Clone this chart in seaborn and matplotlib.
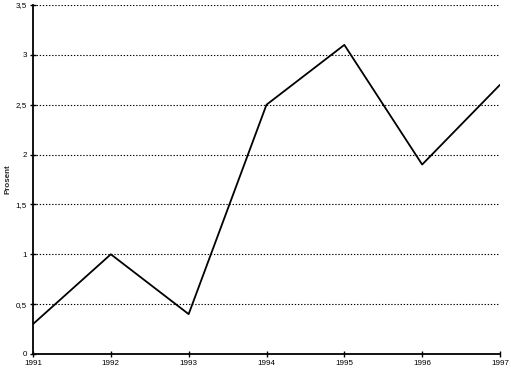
import matplotlib
matplotlib.use("Agg")
import matplotlib.pyplot as plt
import seaborn as sns
import pandas as pd

years = [1991, 1992, 1993, 1994, 1995, 1996, 1997]
values = [0.3, 1.0, 0.4, 2.5, 3.1, 1.9, 2.7]
yticks = [0, 0.5, 1, 1.5, 2, 2.5, 3, 3.5]
ytick_labels = ["0", "0,5", "1", "1,5", "2", "2,5", "3", "3,5"]
ylabel = "Prosent"

sns.set_style("white")
plt.rcParams['font.family'] = ['Liberation Sans', 'DejaVu Sans']

df = pd.DataFrame({"year": years, "value": values})

fig = plt.figure(figsize=(5.11, 3.72), dpi=100)
ax = fig.add_axes([33/511, 1 - 354/372, (500 - 33)/511, (354 - 5)/372])

for y in yticks[1:]:
    ax.axhline(y, color="black", linestyle=(0, (1.2, 1.6)), linewidth=0.8, zorder=1)

sns.lineplot(data=df, x="year", y="value", ax=ax, color="black", linewidth=1.3, zorder=3)

ax.set_xlim(1991, 1997)
ax.set_ylim(0, 3.5)
ax.set_xticks(years)
ax.set_xticklabels([str(y) for y in years], fontsize=5.8)
ax.set_yticks(yticks)
ax.set_yticklabels(ytick_labels, fontsize=5.8)
ax.set_xlabel("")
ax.set_ylabel(ylabel, fontsize=5.8, fontweight="bold", labelpad=3)

for s in ["top", "right"]:
    ax.spines[s].set_visible(False)
for s in ["left", "bottom"]:
    ax.spines[s].set_color("black")
    ax.spines[s].set_linewidth(1.3)

ax.tick_params(axis="both", which="major", bottom=True, left=True, direction="inout",
               length=5, width=1, color="black", pad=2, labelcolor="black")

fig.savefig("out.png", dpi=100)
